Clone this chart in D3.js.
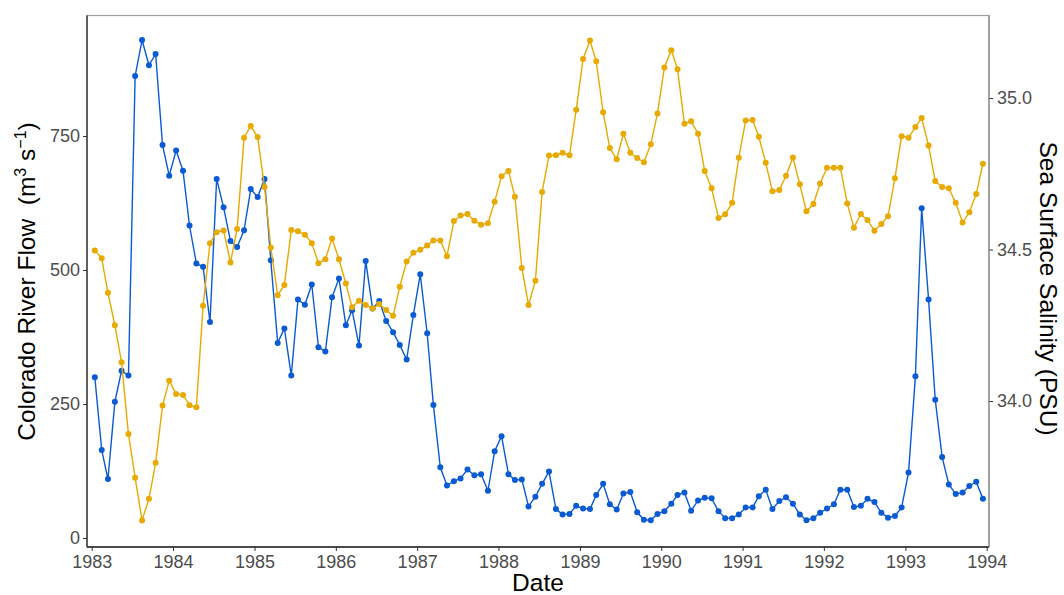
<!DOCTYPE html>
<html>
<head>
<meta charset="utf-8">
<script src="https://cdn.jsdelivr.net/npm/d3@7"></script>
<style>
  html, body { margin: 0; padding: 0; background: #fff; }
  svg { display: block; font-family: "Liberation Sans", Arial, sans-serif; }
</style>
</head>
<body>
<svg id="chart" width="1064" height="595"></svg>
<script>
// ---- data ----
const startYear = 1983;
const endYear = 1994;
const flowTicks = [0, 250, 500, 750];
const salinityTicks = [34.0, 34.5, 35.0];
const yearTicks = [1983, 1984, 1985, 1986, 1987, 1988, 1989, 1990, 1991, 1992, 1993, 1994];

// Colorado River Flow (m3 s-1), monthly Jan 1983 - Dec 1993
const flow = [
  300,164,110,254,312,303,862,929,882,903,733,676,
  723,685,583,512,506,403,670,617,554,543,574,651,
  636,670,518,364,391,303,445,435,473,356,348,449,
  484,397,425,359,517,428,442,405,384,360,333,416,
  492,382,248,132,98,106,111,128,117,119,88,162,
  190,119,108,109,59,77,101,124,54,44,45,60,
  55,54,80,101,63,53,83,86,48,34,33,45,
  50,64,80,85,51,70,75,74,50,37,37,44,
  57,57,78,90,54,69,76,64,44,33,37,47,
  55,63,90,90,58,60,73,67,47,38,41,57,
  122,302,615,445,258,151,100,82,85,97,105,73
];

// Sea Surface Salinity (PSU), monthly Jan 1983 - Dec 1993
const salinity = [
  34.497,34.471,34.357,34.250,34.128,33.891,33.747,33.606,33.677,33.796,33.985,34.067,
  34.023,34.020,33.986,33.979,34.314,34.521,34.557,34.563,34.457,34.568,34.869,34.908,
  34.871,34.706,34.507,34.349,34.383,34.564,34.560,34.549,34.521,34.455,34.468,34.536,
  34.468,34.388,34.309,34.331,34.317,34.305,34.320,34.300,34.281,34.377,34.460,34.489,
  34.499,34.513,34.530,34.530,34.478,34.594,34.612,34.617,34.595,34.582,34.587,34.658,
  34.742,34.759,34.674,34.439,34.317,34.397,34.690,34.810,34.811,34.819,34.811,34.961,
  35.129,35.190,35.121,34.953,34.835,34.798,34.882,34.819,34.802,34.788,34.847,34.949,
  35.101,35.158,35.095,34.915,34.923,34.882,34.759,34.702,34.604,34.616,34.654,34.803,
  34.926,34.927,34.872,34.786,34.692,34.696,34.743,34.804,34.715,34.626,34.650,34.718,
  34.770,34.770,34.770,34.652,34.572,34.617,34.597,34.562,34.584,34.610,34.735,34.874,
  34.869,34.904,34.934,34.843,34.726,34.706,34.702,34.654,34.589,34.623,34.683,34.783
];

// monthly dates (mid-month)
const dates = d3.range(flow.length).map(i => new Date(startYear + Math.floor(i / 12), i % 12, 15));

// ---- layout ----
const panel = { left: 87, right: 989, top: 15.5, bottom: 547 };
const blue = "#0a5ad4";
const gold = "#e8a900";
const tickGray = "#4d4d4d";

const svg = d3.select("#chart");
svg.append("rect").attr("width", 1064).attr("height", 595).attr("fill", "#fff");

const x = d3.scaleTime()
  .domain([new Date(startYear, 0, 1), new Date(endYear, 0, 1)])
  .range([91.7, 986.7]);
const yFlow = d3.scaleLinear().domain([0, 750]).range([538, 136]);
const ySal = d3.scaleLinear().domain([34.0, 35.0]).range([401, 98]);

// panel border
svg.append("rect")
  .attr("x", panel.left).attr("y", panel.top)
  .attr("width", panel.right - panel.left).attr("height", panel.bottom - panel.top)
  .attr("fill", "none").attr("stroke", "#a0a0a0").attr("stroke-width", 1.2);

// axes
const xAxis = d3.axisBottom(x)
  .tickValues(yearTicks.map(yv => new Date(yv, 0, 1)))
  .tickFormat(d3.timeFormat("%Y"))
  .tickSize(4).tickPadding(4);
const gx = svg.append("g").attr("transform", `translate(0,${panel.bottom})`).call(xAxis);
gx.select(".domain").remove();
gx.append("line").attr("x1", panel.left).attr("x2", panel.right).attr("stroke", "#222").attr("stroke-width", 1.4);

const yAxisL = d3.axisLeft(yFlow).tickValues(flowTicks).tickFormat(d3.format("d")).tickSize(4).tickPadding(3);
const gyl = svg.append("g").attr("transform", `translate(${panel.left},0)`).call(yAxisL);
gyl.select(".domain").remove();
gyl.append("line").attr("y1", panel.top).attr("y2", panel.bottom).attr("stroke", "#333").attr("stroke-width", 1.4);

const yAxisR = d3.axisRight(ySal).tickValues(salinityTicks).tickFormat(d3.format(".1f")).tickSize(4).tickPadding(4);
const gyr = svg.append("g").attr("transform", `translate(${panel.right},0)`).call(yAxisR);
gyr.select(".domain").remove();
gyr.append("line").attr("y1", panel.top).attr("y2", panel.bottom).attr("stroke", "#888").attr("stroke-width", 1.2);

[gx, gyl, gyr].forEach(g => {
  g.selectAll(".tick text").attr("fill", tickGray).style("font-size", "18px");
  g.selectAll(".tick line").attr("stroke", "#333");
  g.attr("font-family", null);
});

// lines + points
const flowLine = d3.line().x((d, i) => x(dates[i])).y(d => yFlow(d));
const salLine = d3.line().x((d, i) => x(dates[i])).y(d => ySal(d));

svg.append("path").datum(flow).attr("d", flowLine)
  .attr("fill", "none").attr("stroke", blue).attr("stroke-width", 1.4);
svg.append("g").selectAll("circle").data(flow).join("circle")
  .attr("cx", (d, i) => x(dates[i])).attr("cy", d => yFlow(d)).attr("r", 3).attr("fill", blue);

svg.append("path").datum(salinity).attr("d", salLine)
  .attr("fill", "none").attr("stroke", gold).attr("stroke-width", 1.4);
svg.append("g").selectAll("circle").data(salinity).join("circle")
  .attr("cx", (d, i) => x(dates[i])).attr("cy", d => ySal(d)).attr("r", 3).attr("fill", gold);

// axis titles
svg.append("text")
  .attr("x", (panel.left + panel.right) / 2).attr("y", 591)
  .attr("text-anchor", "middle").style("font-size", "24.5px").attr("fill", "#000")
  .text("Date");

const lt = svg.append("text")
  .attr("transform", `translate(35,281.5) rotate(-90)`)
  .attr("text-anchor", "middle").style("font-size", "24.5px").attr("fill", "#000");
lt.append("tspan").text("Colorado River Flow\u00a0\u00a0(m");
lt.append("tspan").attr("dy", -9).style("font-size", "16px").text("3");
lt.append("tspan").attr("dy", 9).text(" s");
lt.append("tspan").attr("dy", -9).style("font-size", "16px").text("\u22121");
lt.append("tspan").attr("dy", 9).text(")");

svg.append("text")
  .attr("transform", `translate(1040,288.5) rotate(90)`)
  .attr("text-anchor", "middle").style("font-size", "24.5px").attr("fill", "#000")
  .text("Sea Surface Salinity (PSU)");
</script>
</body>
</html>
